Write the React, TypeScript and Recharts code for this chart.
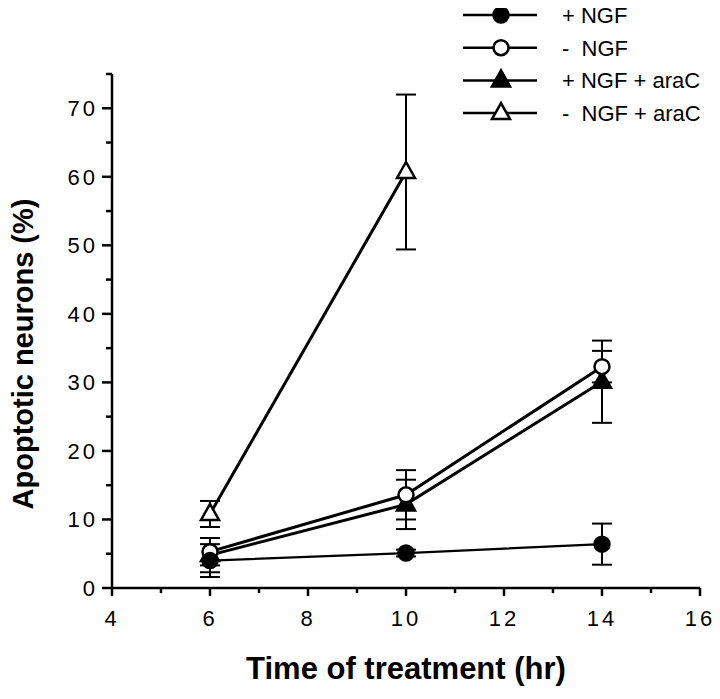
import React from "react";
import { ErrorBar, Label, Legend, Line, LineChart, XAxis, YAxis } from "recharts";

// hours after treatment
const times = [6, 10, 14];

// apoptotic neurons (%), mean and error
const plusNgf = [4.0, 5.1, 6.4];
const plusNgfErr = [2.4, 0.5, 3.0];
const minusNgf = [5.3, 13.6, 32.3];
const minusNgfErr = [2.0, 3.6, 2.3];
const plusNgfAraC = [4.8, 12.2, 30.1];
const plusNgfAraCErr = [2.5, 3.6, 6.0];
const minusNgfAraC = [10.8, 60.7];
const minusNgfAraCErr = [1.9, 11.3];

const xTicks = [4, 5, 6, 7, 8, 9, 10, 11, 12, 13, 14, 15, 16];
const yTicks = [0, 5, 10, 15, 20, 25, 30, 35, 40, 45, 50, 55, 60, 65, 70, 75];

const FONT = "'Liberation Sans', Arial, Helvetica, sans-serif";

type Marker = "circle" | "triangle";

const toRows = (vals: number[], errs: number[]) =>
  vals.map((v, i) => ({ time: times[i], value: v, err: errs[i] }));

const series = [
  { id: "plusNgf", name: "+ NGF", marker: "circle" as Marker, filled: true, width: 2.2, data: toRows(plusNgf, plusNgfErr) },
  { id: "minusNgf", name: "-  NGF", marker: "circle" as Marker, filled: false, width: 3, data: toRows(minusNgf, minusNgfErr) },
  { id: "plusNgfAraC", name: "+ NGF + araC", marker: "triangle" as Marker, filled: true, width: 3, data: toRows(plusNgfAraC, plusNgfAraCErr) },
  { id: "minusNgfAraC", name: "-  NGF + araC", marker: "triangle" as Marker, filled: false, width: 3, data: toRows(minusNgfAraC, minusNgfAraCErr) },
];

function drawMarker(marker: Marker, filled: boolean, cx: number, cy: number, key?: string) {
  const fill = filled ? "#000" : "#fff";
  if (marker === "circle") {
    return <circle key={key} cx={cx} cy={cy} r={7.5} fill={fill} stroke="#000" strokeWidth={2.5} />;
  }
  const pts = `${cx},${cy - 10} ${cx - 9},${cy + 6} ${cx + 9},${cy + 6}`;
  return <polygon key={key} points={pts} fill={fill} stroke="#000" strokeWidth={2.5} strokeLinejoin="miter" />;
}

function XTick(props: any) {
  const { x, y, payload } = props;
  const v = payload.value;
  const major = v % 2 === 0;
  return (
    <g>
      <line x1={x} y1={y} x2={x} y2={y + (major ? 8 : 5)} stroke="#000" strokeWidth={2.5} />
      {major && (
        <text x={x} y={y + 38} textAnchor="middle" fontSize={22} fontFamily={FONT} letterSpacing={3} fill="#000">
          {v}
        </text>
      )}
    </g>
  );
}

function YTick(props: any) {
  const { x, y, payload } = props;
  const v = payload.value;
  const major = v % 10 === 0;
  return (
    <g>
      <line x1={x} y1={y} x2={x - (major ? 10 : 6)} y2={y} stroke="#000" strokeWidth={2.5} />
      {major && (
        <text x={x - 14} y={y + 8} textAnchor="end" fontSize={22} fontFamily={FONT} letterSpacing={3} fill="#000">
          {v}
        </text>
      )}
    </g>
  );
}

function LegendBox() {
  return (
    <svg width={280} height={130} style={{ display: "block", overflow: "visible" }}>
      {series.map((s, i) => {
        const cy = 15 + i * 32.7;
        return (
          <g key={s.id}>
            <line x1={15} y1={cy} x2={89} y2={cy} stroke="#000" strokeWidth={2.5} />
            {drawMarker(s.marker, s.filled, 53, cy)}
            <text x={114} y={cy + 8} fontSize={22} fontFamily={FONT} fill="#000" style={{ whiteSpace: "pre" }}>
              {s.name}
            </text>
          </g>
        );
      })}
    </svg>
  );
}

export default function App() {
  return (
    <LineChart width={712} height={691} margin={{ top: 66, right: 20, left: 4, bottom: 11 }}>
      <XAxis
        dataKey="time"
        type="number"
        domain={[4, 16]}
        ticks={xTicks}
        interval={0}
        tickSize={0}
        tickMargin={0}
        tick={<XTick />}
        height={100}
        axisLine={{ stroke: "#000", strokeWidth: 2.5 }}
        allowDuplicatedCategory={false}
      >
        <Label
          content={() => (
            <text x={398} y={671} textAnchor="middle" fontSize={31} fontWeight="bold" fontFamily={FONT} fill="#000">
              Time of treatment (hr)
            </text>
          )}
        />
      </XAxis>
      <YAxis
        type="number"
        domain={[0, 75]}
        ticks={yTicks}
        interval={0}
        tickSize={0}
        tickMargin={0}
        tick={<YTick />}
        width={100}
        axisLine={{ stroke: "#000", strokeWidth: 2.5 }}
      >
        <Label
          content={() => (
            <text
              x={25}
              y={346}
              transform="rotate(-90 25 346)"
              textAnchor="middle"
              fontSize={29}
              fontWeight="bold"
              fontFamily={FONT}
              fill="#000"
            >
              Apoptotic neurons (%)
            </text>
          )}
        />
      </YAxis>
      <Legend
        layout="horizontal"
        verticalAlign="middle"
        align="center"
        wrapperStyle={{ top: -8, left: 440, width: 280, height: 130 }}
        content={() => <LegendBox />}
      />
      {[...series].reverse().map((s) => (
        <Line
          key={s.id}
          data={s.data}
          dataKey="value"
          name={s.name}
          stroke="#000"
          strokeWidth={s.width}
          isAnimationActive={false}
          dot={(p: any) => drawMarker(s.marker, s.filled, p.cx, p.cy, `${s.id}-${p.index}`)}
          activeDot={false}
        >
          <ErrorBar dataKey="err" width={10} stroke="#000" strokeWidth={2} direction="y" />
        </Line>
      ))}
    </LineChart>
  );
}
